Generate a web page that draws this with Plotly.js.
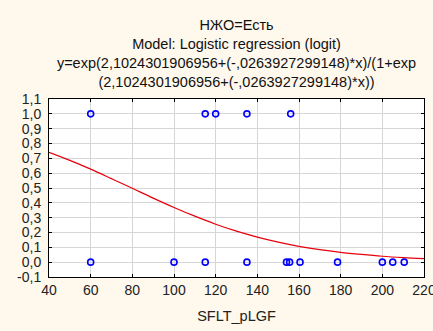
<!DOCTYPE html>
<html>
<head>
<meta charset="utf-8">
<script src="https://cdn.plot.ly/plotly-3.0.1.min.js"></script>
<style>html,body{margin:0;padding:0;background:#fff8ec;}#chart{width:433px;height:331px;}</style>
</head>
<body>
<div id="chart"></div>
<script>
// Observed points (SFLT_pLGF vs НЖО outcome)
const obsX1 = [60, 115, 120, 135, 156];
const obsY1 = [1, 1, 1, 1, 1];
const obsX0 = [60, 100, 115, 135, 154, 155.5, 160.5, 178.5, 200, 205, 210.5];
const obsY0 = [0, 0, 0, 0, 0, 0, 0, 0, 0, 0, 0];
// Fitted logistic curve
const curveX = [40, 50, 60, 70, 80, 90, 100, 110, 120, 130, 140, 150, 160, 170, 180, 190, 200, 210, 220];
const curveY = [0.740, 0.686, 0.627, 0.563, 0.498, 0.432, 0.369, 0.310, 0.256, 0.209, 0.169, 0.135, 0.107, 0.084, 0.066, 0.052, 0.040, 0.031, 0.024];
// Tick labels
const xTickVals = [40, 60, 80, 100, 120, 140, 160, 180, 200, 220];
const xTickText = ['40', '60', '80', '100', '120', '140', '160', '180', '200', '220'];
const yTickVals = [-0.1, 0, 0.1, 0.2, 0.3, 0.4, 0.5, 0.6, 0.7, 0.8, 0.9, 1.0, 1.1];
const yTickText = ['-0,1', '0,0', '0,1', '0,2', '0,3', '0,4', '0,5', '0,6', '0,7', '0,8', '0,9', '1,0', '1,1'];

const font = 'Liberation Sans, Arial, sans-serif';
const markerStyle = {symbol: 'circle-open', size: 6, color: '#0000ff', line: {width: 1.6, color: '#0000ff'}};

const traces = [
  {x: curveX, y: curveY, mode: 'lines', line: {color: '#e8000b', width: 1.2, shape: 'spline'}, hoverinfo: 'skip'},
  {x: obsX1, y: obsY1, mode: 'markers', marker: markerStyle},
  {x: obsX0, y: obsY0, mode: 'markers', marker: markerStyle}
];

const axisCommon = {
  showline: true, linecolor: '#000', linewidth: 1, mirror: 'ticks',
  ticks: 'inside', ticklen: 3, tickcolor: '#000',
  showgrid: true, gridcolor: '#d6d6d6', gridwidth: 1, zeroline: false,
  ticklabeloverflow: 'allow',
  tickfont: {family: font, size: 14, color: '#222'}
};

const layout = {
  width: 433, height: 331,
  paper_bgcolor: '#fff8ec', plot_bgcolor: '#ffffff',
  showlegend: false,
  margin: {l: 49, r: 9, t: 99, b: 54},
  title: {
    text: 'НЖО=Есть<br>Model: Logistic regression (logit)<br>y=exp(2,1024301906956+(-,0263927299148)*x)/(1+exp<br>(2,1024301906956+(-,0263927299148)*x))',
    font: {family: font, size: 14.5, color: '#111'},
    x: 0.5, xanchor: 'center', xref: 'paper',
    y: 0.908, yanchor: 'top', yref: 'container'
  },
  xaxis: Object.assign({}, axisCommon, {
    range: [40, 220], tickmode: 'array', tickvals: xTickVals, ticktext: xTickText,
    title: {text: 'SFLT_pLGF', font: {family: font, size: 14.5, color: '#222'}, standoff: 14}
  }),
  yaxis: Object.assign({}, axisCommon, {
    range: [-0.1, 1.1], tickmode: 'array', tickvals: yTickVals, ticktext: yTickText,
    ticklabelstandoff: 4
  })
};

Plotly.newPlot('chart', traces, layout, {displayModeBar: false, staticPlot: true});
</script>
</body>
</html>
